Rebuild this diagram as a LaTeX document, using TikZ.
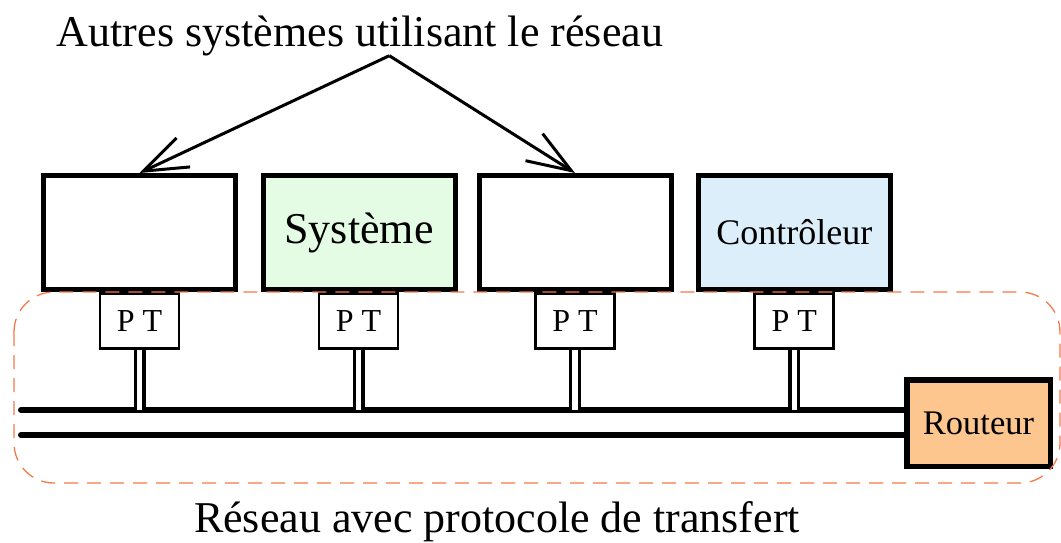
\documentclass[tikz,border=0pt]{standalone}
\usepackage{fontspec}
\setmainfont{Liberation Serif}
\usetikzlibrary{arrows.meta}
\definecolor{sysgreen}{HTML}{E4FCE4}
\definecolor{ctrlblue}{HTML}{DCEEF9}
\definecolor{routorange}{HTML}{FCC68E}
\definecolor{dashorange}{HTML}{F47A4A}
\begin{document}
\begin{tikzpicture}[x=1pt,y=-1pt,
  sysbox/.style={draw, line width=5pt, minimum width=192pt, minimum height=114pt, inner sep=0pt},
  ptbox/.style={draw, line width=2.7pt, fill=white, minimum width=79pt, minimum height=55.3pt, inner sep=0pt, font=\fontsize{32}{36}\selectfont},
  stem/.style={line width=3.2pt, double=white, double distance=5.6pt},
  bus/.style={line width=6pt},
  arr/.style={line width=3pt, -{Straight Barb[length=44pt,width=32pt]}},
  zone/.style={dashorange, line width=1.3pt, dash pattern=on 14pt off 9pt, rounded corners=40pt}
]
\useasboundingbox (0,0) rectangle (1061,542);

% systems
\node[sysbox] (s1) at (139.5,232.5) {};
\node[sysbox, fill=sysgreen, font=\fontsize{44}{48}\selectfont] (s2) at (359,232.5) {Système};
\node[sysbox] (s3) at (575,232.5) {};
\node[sysbox, fill=ctrlblue, font=\fontsize{36}{40}\selectfont] (s4) at (794.3,232.5) {Contrôleur};

% PT boxes
\node[ptbox] (p1) at (139.5,321) {P T};
\node[ptbox] (p2) at (358.5,321) {P T};
\node[ptbox] (p3) at (575,321) {P T};
\node[ptbox] (p4) at (794.3,321) {P T};

% router
\node[draw, line width=5.5pt, fill=routorange, minimum width=143.5pt, minimum height=86.5pt, inner sep=0pt, font=\fontsize{34.5}{38}\selectfont] (rt) at (978.5,423) {Routeur};

% bus
\coordinate (b1) at (21,410);
\coordinate (b2) at (21,435);
\draw[bus, line cap=round] (b1) -- (rt.west |- b1);
\draw[bus, line cap=round] (b2) -- (rt.west |- b2);

% stems
\foreach \i in {1,2,3,4}{
  \draw[stem] (p\i.south) -- (p\i.south |- b1);
}

% network zone
\draw[zone] (14,292) rectangle (1060,483);

% labels
\node[anchor=base, inner sep=0pt, font=\fontsize{44}{48}\selectfont] (top) at (360,46.7) {Autres systèmes utilisant le réseau};
\node[anchor=base, inner sep=0pt, font=\fontsize{44}{48}\selectfont] (bot) at (497,532) {Réseau avec protocole de transfert};

% arrows
\coordinate (apex) at (389.3,55.7);
\draw[arr] (apex) -- (s1.north);
\draw[arr] (apex) -- (s3.north);
\end{tikzpicture}
\end{document}
